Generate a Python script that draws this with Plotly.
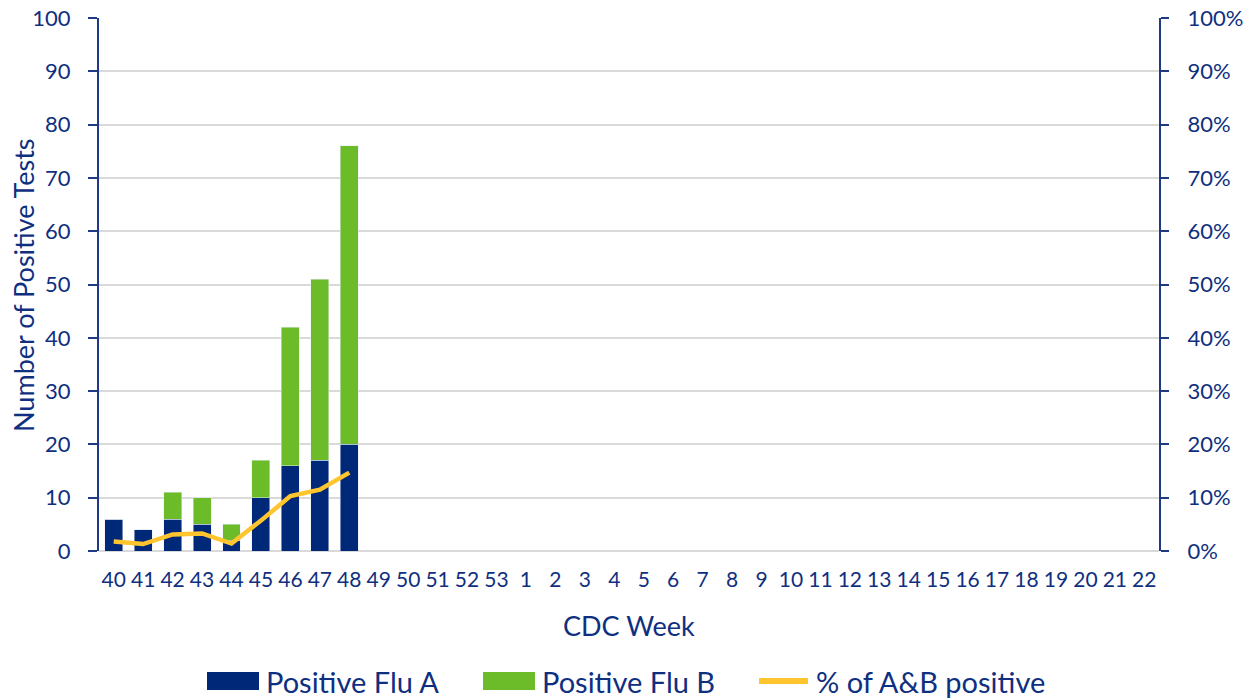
import plotly.graph_objects as go

weeks = [str(w) for w in range(40, 54)] + [str(w) for w in range(1, 23)]
flu_a = [6, 4, 6, 5, 2, 10, 16, 17, 20]
flu_b = [0, 0, 5, 5, 3, 7, 26, 34, 56]
pct_pos = [1.8, 1.3, 3.1, 3.3, 1.4, 5.7, 10.3, 11.5, 14.7]

n = len(flu_a)
pad = [None] * (len(weeks) - n)

BLUE = "#002878"
GREEN = "#6BBC28"
GOLD = "#FFC52F"
TXT = "#0F2F80"
AX = "#1F3A85"
GRID = "#D9D9D9"
FONT = "Lato"

# body margin removed by post_script; plot area at x 99..1159, y 18..551 (page px)
W, H = 1254, 698
ML, MR, MT, MB = 99, 95, 18, 147

fig = go.Figure()
fig.add_trace(go.Bar(x=weeks, y=flu_a + pad, name="Positive Flu A", marker_color=BLUE))
fig.add_trace(go.Bar(x=weeks, y=flu_b + pad, name="Positive Flu B", marker_color=GREEN))
fig.add_trace(go.Scatter(x=weeks[:n], y=pct_pos, name="% of A&B positive", mode="lines",
                         line=dict(color=GOLD, width=4.5), yaxis="y2"))

fig.update_layout(
    width=W, height=H,
    margin=dict(l=ML, r=MR, t=MT, b=MB, pad=0),
    paper_bgcolor="white", plot_bgcolor="white",
    barmode="stack", bargap=0.39,
    showlegend=False,
    font=dict(family=FONT, color=TXT, size=21),
    xaxis=dict(type="category", categoryorder="array", categoryarray=weeks,
               showgrid=False, showline=False, ticks="", ticklabelstandoff=14,
               automargin=False, ticklabeloverflow="allow",
               tickfont=dict(size=21, color=TXT)),
    yaxis=dict(range=[0, 100], dtick=10, showgrid=True, gridcolor=GRID, gridwidth=2,
               zeroline=True, zerolinecolor=GRID, zerolinewidth=2,
               showline=True, linecolor=AX, linewidth=2, automargin=False,
               ticklabeloverflow="allow", ticklabelstandoff=13,
               ticks="outside", ticklen=9, tickwidth=2, tickcolor=AX,
               tickfont=dict(size=22, color=TXT)),
    yaxis2=dict(range=[0, 100], dtick=10, overlaying="y", side="right",
                showgrid=False, zeroline=False, ticksuffix="%", automargin=False,
                ticklabeloverflow="allow", ticklabelstandoff=14,
                showline=True, linecolor=AX, linewidth=2,
                ticks="outside", ticklen=8, tickwidth=2, tickcolor=AX,
                tickfont=dict(size=22, color=TXT)),
)

def px_x(x):
    return (x - 99) / 1060.0

def px_y(y):
    return (551 - y) / 533.0

annotations = [
    dict(text="Number of Positive Tests", x=px_x(23), y=px_y(285), xref="paper", yref="paper",
         xanchor="center", yanchor="middle",
         textangle=-90, showarrow=False, font=dict(size=27, color=TXT, family=FONT)),
    dict(text="CDC Week", x=px_x(629), y=px_y(625), xref="paper", yref="paper",
         xanchor="center", yanchor="middle",
         showarrow=False, font=dict(size=27, color=TXT, family=FONT)),
]
shapes = []
legend_items = [
    ("rect", BLUE, 207, 259, "Positive Flu A", 264),
    ("rect", GREEN, 483, 535, "Positive Flu B", 540),
    ("line", GOLD, 759, 808, "% of A&B positive", 814),
]
for kind, col, x0, x1, label, tx in legend_items:
    if kind == "rect":
        shapes.append(dict(type="rect", xref="paper", yref="paper",
                           x0=px_x(x0), x1=px_x(x1), y0=px_y(672), y1=px_y(690),
                           fillcolor=col, line=dict(width=0)))
    else:
        shapes.append(dict(type="line", xref="paper", yref="paper",
                           x0=px_x(x0), x1=px_x(x1), y0=px_y(681), y1=px_y(681),
                           line=dict(color=col, width=6)))
    annotations.append(dict(text=label, x=px_x(tx), y=px_y(681), xref="paper", yref="paper",
                            xanchor="left", yanchor="middle", showarrow=False,
                            font=dict(size=29, color=TXT, family=FONT)))

fig.update_layout(annotations=annotations, shapes=shapes)
fig.write_html("out.html",
               config={"displayModeBar": False, "staticPlot": True},
               post_script="document.body.style.margin='0';document.body.style.overflow='hidden';")
